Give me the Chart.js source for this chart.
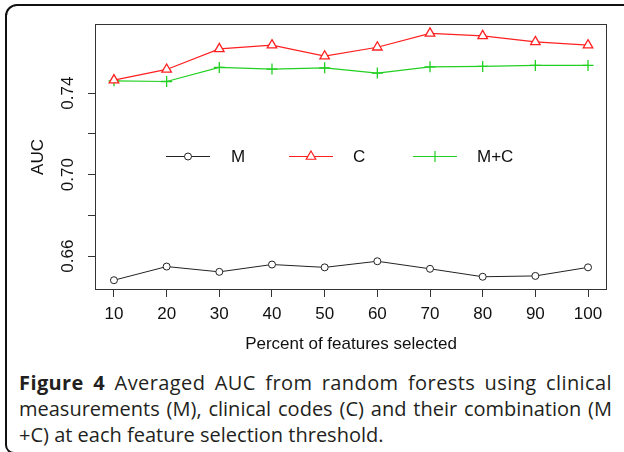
<!DOCTYPE html>
<html>
<head>
<meta charset="utf-8">
<script src="https://cdn.jsdelivr.net/npm/chart.js@4/dist/chart.umd.min.js"></script>
<style>
  html, body { margin: 0; padding: 0; background: #fff; overflow: hidden; }
  #page { position: relative; width: 624px; height: 452px; overflow: hidden; }
  #card {
    position: absolute; left: 5px; top: 4px; width: 700px; height: 446px;
    border: 2px solid #111; border-radius: 12px 0 0 9px;
  }
  #chart { position: absolute; left: 0; top: 0; }
  #caption {
    position: absolute; left: 19px; top: 370px; width: 593px;
    font-family: "Open Sans", sans-serif; font-size: 20px; line-height: 26px; color: #231f20;
  }
  #caption div { white-space: nowrap; text-align: justify; text-align-last: justify; }
  #caption div.first { letter-spacing: 0.4px; }
  #caption div.last { text-align: left; text-align-last: left; }
</style>
</head>
<body>
<div id="page">
  <div id="card"></div>
  <canvas id="chart" width="624" height="360"></canvas>
  <div id="caption">
    <div class="first"><b>Figure 4</b> Averaged AUC from random forests using clinical</div>
    <div>measurements (M), clinical codes (C) and their combination (M</div>
    <div class="last">+C) at each feature selection threshold.</div>
  </div>
</div>
<script>
const percents = [10, 20, 30, 40, 50, 60, 70, 80, 90, 100];
const aucM = [0.6482, 0.6549, 0.6523, 0.6559, 0.6545, 0.6575, 0.6538, 0.6499, 0.6503, 0.6545];
const aucC = [0.7464, 0.7516, 0.7617, 0.7635, 0.7581, 0.7625, 0.7693, 0.7681, 0.7651, 0.7635];
const aucMC = [0.7460, 0.7457, 0.7526, 0.7518, 0.7524, 0.7498, 0.7529, 0.7531, 0.7536, 0.7536];
const seriesNames = ["M", "C", "M+C"];
const yTicks = [0.66, 0.68, 0.70, 0.72, 0.74];
const yTickLabels = ["0.66", "", "0.70", "", "0.74"];

const FONT = "'Liberation Sans', Arial, sans-serif";
const ctx = document.getElementById("chart").getContext("2d");

const toPoints = (vals) => percents.map((p, i) => ({ x: p, y: vals[i] }));

// legend spots inside the plot (line start, line end, text x)
const legendSpots = [
  { x1: 166, x2: 210, tx: 231 },
  { x1: 289, x2: 333, tx: 353 },
  { x1: 413, x2: 457, tx: 477 },
];
const legendY = 156;

const extras = {
  id: "extras",
  afterDraw(chart) {
    const c = chart.ctx;
    const area = chart.chartArea;
    const yScale = chart.scales.y;
    c.save();
    // box round the plot
    c.strokeStyle = "#333";
    c.lineWidth = 1;
    c.strokeRect(area.left + 0.5, area.top + 0.5, area.right - area.left - 1, area.bottom - area.top - 1);

    // rotated y tick labels
    c.fillStyle = "#111";
    c.font = "17px " + FONT;
    c.textAlign = "center";
    c.textBaseline = "middle";
    yTicks.forEach((v, i) => {
      if (!yTickLabels[i]) return;
      const py = yScale.getPixelForValue(v);
      c.save();
      c.translate(68, py);
      c.rotate(-Math.PI / 2);
      c.fillText(yTickLabels[i], 0, 0);
      c.restore();
    });

    // legend without box
    chart.data.datasets.forEach((ds, i) => {
      const s = legendSpots[i];
      c.strokeStyle = ds.borderColor;
      c.lineWidth = ds.borderWidth;
      c.beginPath();
      c.moveTo(s.x1, legendY + 0.5);
      c.lineTo(s.x2, legendY + 0.5);
      c.stroke();
      c.fillStyle = "#fff";
      c.strokeStyle = ds.pointBorderColor;
      Chart.helpers.drawPoint(c, {
        pointStyle: ds.pointStyle,
        radius: ds.pointRadius,
        borderWidth: ds.pointBorderWidth,
        rotation: 0,
      }, (s.x1 + s.x2) / 2, legendY + 0.5);
      c.fillStyle = "#111";
      c.textAlign = "left";
      c.textBaseline = "middle";
      c.fillText(ds.label, s.tx, legendY + 1);
    });
    c.restore();
  },
};

new Chart(ctx, {
  type: "line",
  data: {
    datasets: [
      {
        label: seriesNames[0],
        data: toPoints(aucM),
        borderColor: "#222",
        borderWidth: 1,
        pointStyle: "circle",
        pointRadius: 3.5,
        pointBorderWidth: 1,
        pointBorderColor: "#222",
        pointBackgroundColor: "#fff",
      },
      {
        label: seriesNames[1],
        data: toPoints(aucC),
        borderColor: "#ff2020",
        borderWidth: 1.2,
        pointStyle: "triangle",
        pointRadius: 5.5,
        pointBorderWidth: 1.3,
        pointBorderColor: "#ff2020",
        pointBackgroundColor: "#fff",
      },
      {
        label: seriesNames[2],
        data: toPoints(aucMC),
        borderColor: "#22d022",
        borderWidth: 1.2,
        pointStyle: "cross",
        pointRadius: 5.5,
        pointBorderWidth: 1.3,
        pointBorderColor: "#22d022",
        pointBackgroundColor: "#fff",
      },
    ],
  },
  options: {
    responsive: false,
    animation: false,
    layout: { padding: { left: 0, top: 24, right: 17, bottom: 0 } },
    scales: {
      x: {
        type: "linear",
        min: 6.4,
        max: 103.6,
        afterBuildTicks: (axis) => { axis.ticks = percents.map((v) => ({ value: v })); },
        afterFit: (axis) => { axis.height = 70; },
        grid: { drawOnChartArea: false, drawTicks: true, tickLength: 7, color: "#333", tickColor: "#333" },
        border: { display: false },
        ticks: { color: "#111", font: { family: FONT, size: 17 }, padding: 7, maxRotation: 0, autoSkip: false },
        title: {
          display: true,
          text: "Percent of features selected",
          color: "#111",
          font: { family: FONT, size: 17 },
          padding: { top: 0, bottom: 5 },
        },
      },
      y: {
        type: "linear",
        min: 0.6434,
        max: 0.7739,
        afterBuildTicks: (axis) => { axis.ticks = yTicks.map((v) => ({ value: v })); },
        afterFit: (axis) => { axis.width = 95; },
        grid: { drawOnChartArea: false, drawTicks: true, tickLength: 7, color: "#333", tickColor: "#333" },
        border: { display: false },
        ticks: { display: false },
        title: {
          display: true,
          text: "AUC",
          color: "#111",
          font: { family: FONT, size: 17 },
          padding: { top: 28, bottom: 0 },
        },
      },
    },
    plugins: {
      legend: { display: false },
      tooltip: { enabled: false },
    },
  },
  plugins: [extras],
});
</script>
</body>
</html>
